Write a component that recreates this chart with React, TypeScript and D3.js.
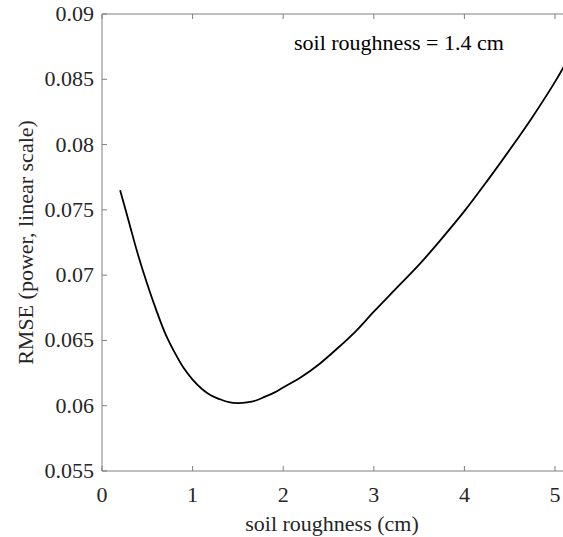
import React from "react";
import * as d3 from "d3";

const roughness = [0.2, 0.3, 0.4, 0.5, 0.6, 0.7, 0.8, 0.9, 1.0, 1.1, 1.2, 1.3, 1.4, 1.5, 1.6, 1.7, 1.8, 1.9, 2.0, 2.2, 2.4, 2.6, 2.8, 3.0, 3.25, 3.5, 3.75, 4.0, 4.25, 4.5, 4.75, 5.0, 5.1];
const rmse = [0.0765, 0.074, 0.0715, 0.0693, 0.0673, 0.0655, 0.0641, 0.0629, 0.062, 0.0613, 0.0608, 0.0605, 0.06027, 0.0602, 0.06025, 0.0604, 0.0607, 0.061, 0.0614, 0.0622, 0.0632, 0.0644, 0.0657, 0.0672, 0.069, 0.0708, 0.0728, 0.0749, 0.0772, 0.0796, 0.0821, 0.0848, 0.086];
const xTicks = [0, 1, 2, 3, 4, 5];
const yTicks = [0.055, 0.06, 0.065, 0.07, 0.075, 0.08, 0.085, 0.09];
const yTickLabels = ["0.055", "0.06", "0.065", "0.07", "0.075", "0.08", "0.085", "0.09"];
const annotation = "soil roughness = 1.4 cm";
const xTitle = "soil roughness (cm)";
const yTitle = "RMSE (power, linear scale)";

const W = 563;
const H = 537;
const left = 102;
const top = 14;
const bottom = 471;
const unit = 90.6;

export default function App() {
  const x = d3.scaleLinear().domain([0, 1]).range([left, left + unit]);
  const y = d3.scaleLinear().domain([0.055, 0.09]).range([bottom, top]);
  const pts = roughness.map((r, i) => [r, rmse[i]] as [number, number]);
  const line = d3
    .line<[number, number]>()
    .x((d) => x(d[0]))
    .y((d) => y(d[1]))
    .curve(d3.curveCatmullRom.alpha(0.5));
  const font = '"Liberation Serif", "Times New Roman", Times, serif';
  const axisColor = "#7f7f7f";
  const tl = 5;
  const txt = { fontFamily: font };
  const fs = 22;
  return (
    <svg
      width={W}
      height={H}
      style={{ position: "fixed", left: 0, top: 0, background: "#fff", fontFamily: font }}
    >
      <rect x={0} y={0} width={W} height={H} fill="#fff" />
      <line x1={left} x2={W} y1={bottom} y2={bottom} stroke={axisColor} strokeWidth={1} />
      <line x1={left} x2={W} y1={top} y2={top} stroke={axisColor} strokeWidth={1} />
      <line x1={left} x2={left} y1={top} y2={bottom} stroke={axisColor} strokeWidth={1} />
      {xTicks.map((t) => (
        <g key={"x" + t}>
          <line x1={x(t)} x2={x(t)} y1={bottom} y2={bottom - tl} stroke={axisColor} />
          <line x1={x(t)} x2={x(t)} y1={top} y2={top + tl} stroke={axisColor} />
          <text x={x(t)} y={502} textAnchor="middle" fontSize={fs} fill="#262626" style={txt}>
            {t}
          </text>
        </g>
      ))}
      {yTicks.map((t, i) => (
        <g key={"y" + t}>
          <line x1={left} x2={left + tl} y1={y(t)} y2={y(t)} stroke={axisColor} />
          <text x={94} y={y(t) + 7} textAnchor="end" fontSize={fs} fill="#262626" style={txt}>
            {yTickLabels[i]}
          </text>
        </g>
      ))}
      <path d={line(pts) || ""} fill="none" stroke="#000" strokeWidth={1.8} />
      <text x={294} y={50} fontSize={fs} fill="#000" style={txt}>
        {annotation}
      </text>
      <text x={332} y={531} textAnchor="middle" fontSize={fs} fill="#262626" style={txt}>
        {xTitle}
      </text>
      <text
        transform={`translate(33, ${(top + bottom) / 2}) rotate(-90)`}
        textAnchor="middle"
        fontSize={fs}
        fill="#262626"
        style={txt}
      >
        {yTitle}
      </text>
    </svg>
  );
}
